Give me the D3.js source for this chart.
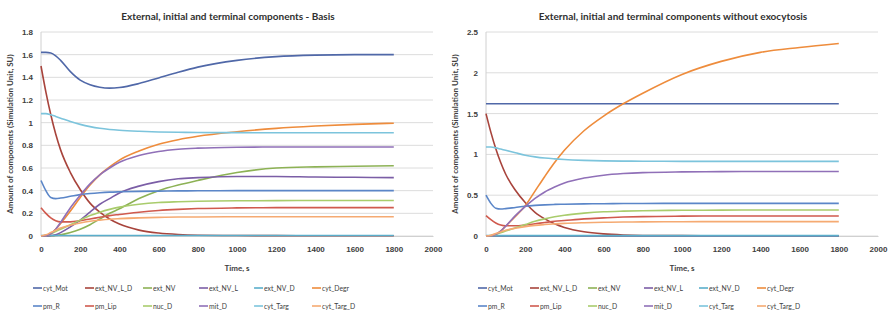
<!DOCTYPE html>
<html>
<head>
<meta charset="utf-8">
<script src="https://cdn.jsdelivr.net/npm/d3@7"></script>
<style>
  body { margin: 0; background: #fff; }
  svg { font-family: Lato, "Open Sans", sans-serif; }
</style>
</head>
<body>
<script>
// time points (s)
var times = [0, 25, 50, 75, 100, 150, 200, 250, 300, 350, 400, 500, 600, 700, 800, 1000, 1200, 1400, 1600, 1800];

var seriesNames = ["cyt_Mot", "ext_NV_L_D", "ext_NV", "ext_NV_L", "ext_NV_D", "cyt_Degr",
                   "pm_R", "pm_Lip", "nuc_D", "mit_D", "cyt_Targ", "cyt_Targ_D"];
var seriesColors = ["#5068a8", "#a8443c", "#8db255", "#7b5ea6", "#5aaecb", "#ee8c3c",
                    "#5b86c8", "#d05a4e", "#a9cc6c", "#9070b8", "#7cc4dc", "#f5aa72"];

// Basis
var basisCytMot    = [1.62, 1.62, 1.615, 1.59, 1.55, 1.45, 1.375, 1.335, 1.313, 1.305, 1.31, 1.345, 1.395, 1.445, 1.49, 1.55, 1.583, 1.596, 1.6, 1.6];
var basisExtNVLD   = [1.5, 1.27, 1.07, 0.9, 0.76, 0.56, 0.41, 0.29, 0.21, 0.15, 0.105, 0.052, 0.026, 0.013, 0.007, 0.004, 0.003, 0.002, 0.002, 0.002];
var basisExtNV     = [0, 0, 0.002, 0.005, 0.01, 0.03, 0.06, 0.1, 0.15, 0.2, 0.24, 0.33, 0.4, 0.45, 0.49, 0.56, 0.6, 0.61, 0.615, 0.62];
var basisExtNVL    = [0, 0, 0.003, 0.01, 0.03, 0.08, 0.14, 0.21, 0.28, 0.33, 0.38, 0.44, 0.48, 0.505, 0.515, 0.525, 0.525, 0.52, 0.518, 0.515];
var basisExtNVD    = [0.005, 0.005, 0.005, 0.005, 0.005, 0.005, 0.005, 0.005, 0.005, 0.005, 0.005, 0.005, 0.005, 0.005, 0.005, 0.005, 0.005, 0.005, 0.005, 0.005];
var basisCytDegr   = [0, 0.003, 0.02, 0.06, 0.11, 0.22, 0.34, 0.45, 0.54, 0.61, 0.67, 0.75, 0.81, 0.85, 0.88, 0.92, 0.95, 0.97, 0.985, 0.995];
var basisPmR       = [0.49, 0.4, 0.34, 0.33, 0.335, 0.35, 0.365, 0.375, 0.382, 0.387, 0.39, 0.394, 0.396, 0.398, 0.399, 0.4, 0.4, 0.4, 0.4, 0.4];
var basisPmLip     = [0.25, 0.2, 0.16, 0.135, 0.125, 0.125, 0.135, 0.15, 0.165, 0.18, 0.19, 0.21, 0.225, 0.235, 0.242, 0.248, 0.25, 0.25, 0.25, 0.25];
var basisNucD      = [0, 0.005, 0.02, 0.04, 0.06, 0.1, 0.14, 0.18, 0.21, 0.235, 0.255, 0.28, 0.295, 0.302, 0.307, 0.311, 0.312, 0.313, 0.313, 0.313];
var basisMitD      = [0, 0.003, 0.02, 0.06, 0.12, 0.25, 0.36, 0.46, 0.54, 0.6, 0.65, 0.71, 0.745, 0.765, 0.775, 0.783, 0.785, 0.785, 0.785, 0.785];
var basisCytTarg   = [1.08, 1.08, 1.07, 1.055, 1.04, 1.01, 0.985, 0.965, 0.95, 0.94, 0.933, 0.924, 0.918, 0.915, 0.913, 0.912, 0.911, 0.911, 0.911, 0.911];
var basisCytTargD  = [0, 0.01, 0.03, 0.05, 0.07, 0.095, 0.115, 0.13, 0.14, 0.148, 0.153, 0.16, 0.164, 0.167, 0.168, 0.17, 0.17, 0.17, 0.17, 0.17];

// Without exocytosis
var noexoCytMot    = [1.62, 1.62, 1.62, 1.62, 1.62, 1.62, 1.62, 1.62, 1.62, 1.62, 1.62, 1.62, 1.62, 1.62, 1.62, 1.62, 1.62, 1.62, 1.62, 1.62];
var noexoExtNVLD   = [1.5, 1.27, 1.07, 0.9, 0.76, 0.56, 0.41, 0.29, 0.21, 0.15, 0.105, 0.052, 0.026, 0.013, 0.007, 0.004, 0.003, 0.002, 0.002, 0.002];
var noexoExtNV     = [0, 0, 0, 0, 0, 0, 0, 0, 0, 0, 0, 0, 0, 0, 0, 0, 0, 0, 0, 0];
var noexoExtNVL    = [0, 0, 0, 0, 0, 0, 0, 0, 0, 0, 0, 0, 0, 0, 0, 0, 0, 0, 0, 0];
var noexoExtNVD    = [0.005, 0.005, 0.005, 0.005, 0.005, 0.005, 0.005, 0.005, 0.005, 0.005, 0.005, 0.005, 0.005, 0.005, 0.005, 0.005, 0.005, 0.005, 0.005, 0.005];
var noexoCytDegr   = [0, 0.003, 0.02, 0.06, 0.12, 0.24, 0.37, 0.55, 0.73, 0.9, 1.05, 1.29, 1.47, 1.62, 1.75, 1.98, 2.14, 2.25, 2.31, 2.36];
var noexoPmR       = [0.5, 0.4, 0.34, 0.33, 0.335, 0.35, 0.365, 0.375, 0.382, 0.387, 0.39, 0.394, 0.396, 0.398, 0.399, 0.4, 0.4, 0.4, 0.4, 0.4];
var noexoPmLip     = [0.25, 0.2, 0.16, 0.135, 0.125, 0.125, 0.135, 0.15, 0.165, 0.18, 0.19, 0.21, 0.222, 0.232, 0.238, 0.243, 0.245, 0.246, 0.246, 0.246];
var noexoNucD      = [0, 0.005, 0.02, 0.04, 0.06, 0.1, 0.14, 0.18, 0.21, 0.235, 0.255, 0.28, 0.297, 0.305, 0.31, 0.315, 0.317, 0.318, 0.318, 0.318];
var noexoMitD      = [0, 0.003, 0.02, 0.06, 0.12, 0.25, 0.36, 0.46, 0.54, 0.6, 0.65, 0.71, 0.745, 0.765, 0.777, 0.786, 0.789, 0.79, 0.79, 0.79];
var noexoCytTarg   = [1.09, 1.09, 1.08, 1.065, 1.05, 1.02, 0.99, 0.97, 0.955, 0.945, 0.937, 0.927, 0.921, 0.918, 0.916, 0.915, 0.915, 0.915, 0.915, 0.915];
var noexoCytTargD  = [0, 0.01, 0.03, 0.05, 0.07, 0.095, 0.115, 0.13, 0.14, 0.148, 0.155, 0.163, 0.168, 0.171, 0.173, 0.175, 0.176, 0.176, 0.176, 0.176];

var basisSeries = [basisCytMot, basisExtNVLD, basisExtNV, basisExtNVL, basisExtNVD, basisCytDegr,
                   basisPmR, basisPmLip, basisNucD, basisMitD, basisCytTarg, basisCytTargD];
var noexoSeries = [noexoCytMot, noexoExtNVLD, noexoExtNV, noexoExtNVL, noexoExtNVD, noexoCytDegr,
                   noexoPmR, noexoPmLip, noexoNucD, noexoMitD, noexoCytTarg, noexoCytTargD];

var xTicks = [0, 200, 400, 600, 800, 1000, 1200, 1400, 1600, 1800, 2000];
var basisYTicks = [0, 0.2, 0.4, 0.6, 0.8, 1, 1.2, 1.4, 1.6, 1.8];
var noexoYTicks = [0, 0.5, 1, 1.5, 2, 2.5];

var width = 889, height = 321;

var svg = d3.select("body")
.append("svg")
.attr("width", width)
.attr("height", height);

function drawChart(ox, title, series, yTicks, yMax) {
  var g = svg.append("g").attr("transform", "translate(" + ox + ",0)");

  var x = d3.scaleLinear().domain([0, 2000]).range([41, 433]);
  var y = d3.scaleLinear().domain([0, yMax]).range([236, 32]);

  // gridlines
  g.selectAll(".grid")
  .data(yTicks)
  .enter()
  .append("line")
  .attr("x1", x(0))
  .attr("x2", x(2000))
  .attr("y1", function(d) { return y(d) })
  .attr("y2", function(d) { return y(d) })
  .attr("stroke", "#dcdcdc")
  .attr("stroke-width", 1);

  // vertical axis line
  g.append("line")
  .attr("x1", x(0)).attr("x2", x(0))
  .attr("y1", y(0)).attr("y2", y(yMax))
  .attr("stroke", "#d0d0d0");

  var yAxis = d3.axisLeft(y).tickValues(yTicks).tickSize(0).tickPadding(8)
  .tickFormat(function(d) { return String(d) });
  var ya = g.append("g").attr("transform", "translate(" + x(0) + ",0)").call(yAxis);
  ya.select(".domain").remove();

  var xAxis = d3.axisBottom(x).tickValues(xTicks).tickSize(0).tickPadding(10)
  .tickFormat(function(d) { return String(d) });
  var xa = g.append("g").attr("transform", "translate(0," + y(0) + ")").call(xAxis);
  xa.select(".domain").attr("stroke", "#d0d0d0");

  g.selectAll(".tick text")
  .attr("fill", "#404040")
  .style("font-size", "8px")
  .style("font-weight", "bold");

  var line = d3.line()
  .x(function(d, i) { return x(times[i]) })
  .y(function(d) { return y(d) })
  .curve(d3.curveMonotoneX);

  g.selectAll(".series")
  .data(series)
  .enter()
  .append("path")
  .attr("class", "series")
  .attr("d", line)
  .attr("fill", "none")
  .attr("stroke", function(d, i) { return seriesColors[i] })
  .attr("stroke-width", 1.6);

  // titles
  g.append("text")
  .attr("x", 228).attr("y", 20)
  .attr("text-anchor", "middle")
  .attr("fill", "#303030")
  .style("font-size", "10px")
  .style("font-weight", "bold")
  .text(title);

  g.append("text")
  .attr("transform", "translate(13," + ((y(0) + y(yMax)) / 2) + ") rotate(-90)")
  .attr("text-anchor", "middle")
  .attr("fill", "#404040")
  .style("font-size", "8px")
  .style("font-weight", "bold")
  .text("Amount of components (Simulation Unit, SU)");

  g.append("text")
  .attr("x", 237).attr("y", 271)
  .attr("text-anchor", "middle")
  .attr("fill", "#404040")
  .style("font-size", "8px")
  .style("font-weight", "bold")
  .text("Time, s");

  // legend
  var legend = g.selectAll(".legendItem")
  .data(seriesNames)
  .enter()
  .append("g")
  .attr("class", "legendItem")
  .attr("transform", function(d, i) {
    var cols = [33, 85, 143, 199, 254, 312];
    return "translate(" + cols[i % 6] + "," + (i < 6 ? 288 : 306) + ")";
  });

  legend.append("line")
  .attr("x1", 0).attr("x2", 9)
  .attr("stroke", function(d, i) { return seriesColors[i] })
  .attr("stroke-width", 1.6);

  legend.append("text")
  .attr("x", 10).attr("y", 2.5)
  .attr("fill", "#404040")
  .style("font-size", "6.8px")
  .text(function(d) { return d });
}

drawChart(0, "External, initial and terminal components - Basis", basisSeries, basisYTicks, 1.8);
drawChart(445, "External, initial and terminal components without exocytosis", noexoSeries, noexoYTicks, 2.5);
</script>
</body>
</html>
